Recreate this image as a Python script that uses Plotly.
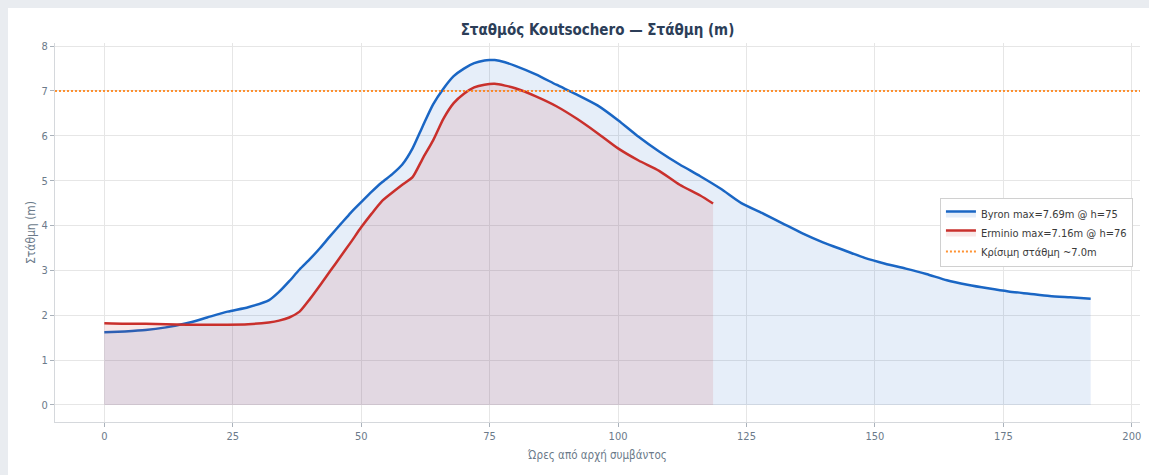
import plotly.graph_objects as go

# ---- data ----
byron_hours = [0, 4, 8, 12, 16, 20, 24, 28, 32, 34, 36, 38, 40, 42, 44, 46, 48, 50, 52, 54,
               56, 58, 60, 62, 64, 66, 68, 70, 72, 74, 75, 76, 78, 80, 84, 88, 92, 96, 100,
               104, 108, 112, 116, 120, 124, 128, 132, 136, 140, 144, 148, 152, 156, 160,
               164, 168, 172, 176, 180, 184, 188, 192]
byron_level = [1.62, 1.64, 1.67, 1.73, 1.82, 1.95, 2.08, 2.18, 2.33, 2.52, 2.76, 3.02, 3.25,
               3.50, 3.77, 4.03, 4.29, 4.52, 4.75, 4.96, 5.14, 5.36, 5.72, 6.22, 6.70, 7.05,
               7.33, 7.50, 7.62, 7.68, 7.69, 7.69, 7.64, 7.56, 7.37, 7.14, 6.92, 6.68, 6.35,
               5.98, 5.65, 5.36, 5.10, 4.82, 4.50, 4.28, 4.05, 3.82, 3.62, 3.45, 3.28, 3.15,
               3.04, 2.92, 2.78, 2.68, 2.60, 2.53, 2.48, 2.43, 2.40, 2.37]

erminio_hours = [0, 4, 8, 12, 16, 20, 24, 28, 32, 34, 36, 38, 40, 42, 44, 46, 48, 50, 52, 54,
                 56, 58, 60, 62, 64, 66, 68, 70, 72, 74, 76, 78, 80, 84, 88, 92, 96, 100,
                 104, 108, 112, 116, 118.5]
erminio_level = [1.82, 1.81, 1.81, 1.80, 1.79, 1.79, 1.79, 1.80, 1.84, 1.88, 1.95, 2.08, 2.36,
                 2.67, 2.99, 3.31, 3.63, 3.96, 4.26, 4.54, 4.73, 4.91, 5.08, 5.50, 5.90, 6.38,
                 6.73, 6.94, 7.08, 7.14, 7.16, 7.12, 7.06, 6.88, 6.66, 6.38, 6.06, 5.72, 5.45,
                 5.22, 4.91, 4.67, 4.49]

critical_level = 7.0

byron_name = "Byron max=7.69m @ h=75"
erminio_name = "Erminio max=7.16m @ h=76"
critical_name = "Κρίσιμη στάθμη ~7.0m"
title_text = "<b>Σταθμός Koutsochero — Στάθμη (m)</b>"
x_title = "Ώρες από αρχή συμβάντος"
y_title = "Στάθμη (m)"

FONT = "DejaVu Sans Condensed, DejaVu Sans, sans-serif"
TXT = "#6b7a8a"
ORANGE = "rgba(255,127,14,0.85)"

fig = go.Figure()
fig.add_trace(go.Scatter(
    x=byron_hours, y=byron_level, mode="lines", name=byron_name,
    line=dict(color="#1a66c4", width=2.5, shape="spline", smoothing=0.6),
    fill="tozeroy", fillcolor="rgba(26,102,196,0.11)"))
fig.add_trace(go.Scatter(
    x=erminio_hours, y=erminio_level, mode="lines", name=erminio_name,
    line=dict(color="#c9302c", width=2.5, shape="spline", smoothing=0.6),
    fill="tozeroy", fillcolor="rgba(201,48,44,0.11)"))
# legend entry for the critical level line
fig.add_trace(go.Scatter(
    x=[None], y=[None], mode="lines", name=critical_name,
    line=dict(color=ORANGE, width=1.8, dash="2px,2px")))

# critical level across the full width
fig.add_shape(type="line", xref="paper", x0=0, x1=1, yref="y", y0=critical_level,
              y1=critical_level, line=dict(color=ORANGE, width=2, dash="2px,2px"))

fig.update_layout(
    width=1141, height=467,
    margin=dict(l=47, r=9, t=35, b=53),
    paper_bgcolor="white", plot_bgcolor="white",
    font=dict(family=FONT, size=11, color=TXT),
    title=dict(text=title_text, x=0.5, xref="paper", xanchor="center",
               y=1 - 22 / 467, yanchor="middle",
               font=dict(family=FONT, size=15, color="#2c3e58")),
    showlegend=True,
    legend=dict(x=0.9935, xanchor="right", y=0.5, yanchor="middle",
                bgcolor="white", bordercolor="#d0d0d0", borderwidth=1,
                font=dict(family=FONT, size=11, color="#3a3a3a"),
                tracegroupgap=0, itemwidth=30),
)
fig.update_xaxes(range=[-9.6, 201.6], tickvals=[0, 25, 50, 75, 100, 125, 150, 175, 200],
                 showgrid=True, gridcolor="#e6e6e6", gridwidth=1, zeroline=False,
                 showline=True, linecolor="#d5d8dc", linewidth=1,
                 ticks="outside", ticklen=4, tickcolor="#aab2bb",
                 tickfont=dict(size=11, color=TXT),
                 title=dict(text=x_title, font=dict(size=11.5, color=TXT), standoff=8))
fig.update_yaxes(range=[-0.38, 8.07], tickvals=[0, 1, 2, 3, 4, 5, 6, 7, 8],
                 showgrid=True, gridcolor="#e6e6e6", gridwidth=1, zeroline=False,
                 showline=True, linecolor="#d5d8dc", linewidth=1,
                 ticks="outside", ticklen=4, tickcolor="#aab2bb",
                 tickfont=dict(size=11, color=TXT),
                 title=dict(text=y_title, font=dict(size=12, color=TXT), standoff=3))

fig.write_html(
    "out.html",
    post_script=("document.body.style.background='#e9ecf0';"
                 "document.body.style.margin='8px 0 0 8px';"
                 "document.body.style.overflow='hidden';"
                 "document.documentElement.style.overflow='hidden';"))
